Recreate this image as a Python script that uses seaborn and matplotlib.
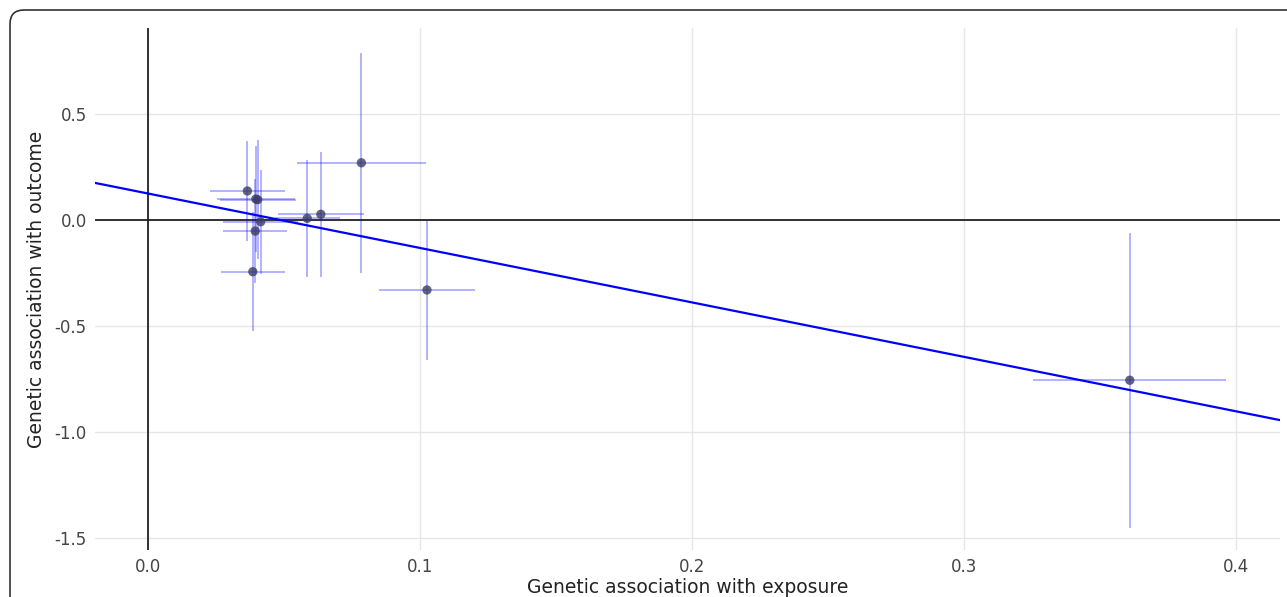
import matplotlib
matplotlib.use('Agg')
import matplotlib.pyplot as plt
from matplotlib.patches import FancyBboxPatch
import seaborn as sns
import numpy as np
import pandas as pd

# SNP-level genetic associations
bx = [0.0365, 0.0396, 0.0403, 0.0414, 0.0394, 0.0385, 0.0585, 0.0635, 0.0784, 0.1025, 0.3608]
by = [0.137, 0.099, 0.096, -0.008, -0.052, -0.244, 0.008, 0.027, 0.270, -0.330, -0.756]
bx_err = [0.0137, 0.0144, 0.0140, 0.0138, 0.0118, 0.0118, 0.0120, 0.0157, 0.0236, 0.0176, 0.0354]
by_err = [0.235, 0.250, 0.280, 0.245, 0.245, 0.280, 0.277, 0.295, 0.520, 0.330, 0.695]

# fitted line
intercept = 0.125
slope = -2.57

xticks = [0.0, 0.1, 0.2, 0.3, 0.4]
yticks = [-1.5, -1.0, -0.5, 0.0, 0.5]

df = pd.DataFrame({'bx': bx, 'by': by, 'sx': bx_err, 'sy': by_err})

sns.set_style('white')
plt.rcParams['font.family'] = ['DejaVu Sans']

fig = plt.figure(figsize=(12.87, 5.97), dpi=100)
ax = fig.add_axes([95 / 1287, 1 - 550 / 597, (1280 - 95) / 1287, (550 - 28) / 597])

xlim = (-0.0195, 0.416)
ylim = (-1.557, 0.906)

ax.errorbar(df.bx, df.by, xerr=df.sx, yerr=df.sy, fmt='none',
            ecolor=(0, 0, 1, 0.32), elinewidth=1.3, capsize=0, zorder=2)

line_x = np.array(xlim)
line_df = pd.DataFrame({'x': line_x, 'y': intercept + slope * line_x})
sns.lineplot(data=line_df, x='x', y='y', color='#0000ff', linewidth=1.6, ax=ax, zorder=3)

sns.scatterplot(data=df, x='bx', y='by', color='#3c3c64', alpha=0.8, s=45,
                edgecolor='none', ax=ax, zorder=4)

ax.axhline(0, color='#222222', linewidth=1.3, zorder=1)
ax.axvline(0, color='#222222', linewidth=1.3, zorder=1)

ax.set_xlim(*xlim)
ax.set_ylim(*ylim)
ax.set_xticks(xticks)
ax.set_yticks(yticks)
ax.set_xticklabels([f'{t:.1f}' for t in xticks])
ax.set_yticklabels([f'{t:.1f}' for t in yticks])
ax.grid(True, color='#e6e6e6', linewidth=1)
ax.set_axisbelow(True)
for s in ax.spines.values():
    s.set_visible(False)
ax.tick_params(length=0, labelsize=12, colors='#444444', pad=6)

ax.set_xlabel('Genetic association with exposure', fontsize=13.5, color='#222222', labelpad=1)
ax.set_ylabel('Genetic association with outcome', fontsize=13.5, color='#222222', labelpad=6)

# rounded frame around the panel (runs off the right and bottom edges)
frame = FancyBboxPatch((10, -60), 1340, 597 - 10 + 60,
                       boxstyle='round,pad=0,rounding_size=14',
                       transform=None, fill=False, edgecolor='#333333', linewidth=1.2)
fig.add_artist(frame)

fig.savefig('out.png', dpi=100)
